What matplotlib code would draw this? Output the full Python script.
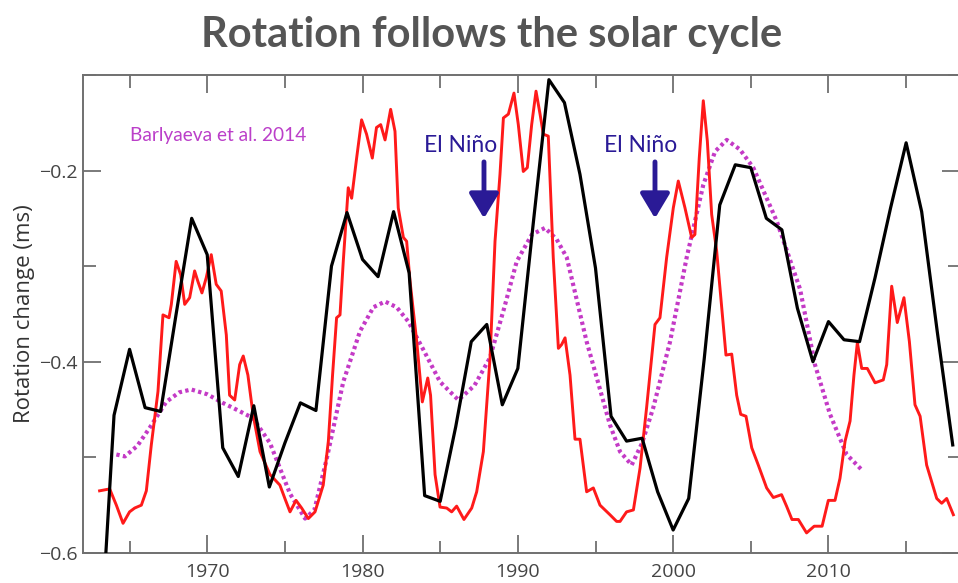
import matplotlib
matplotlib.use("Agg")
import matplotlib.pyplot as plt
from matplotlib.ticker import MultipleLocator

# black: annual rotation change (ms)
rot_years = list(range(1963, 2019))
rot_vals = [-0.73, -0.456, -0.387, -0.448, -0.452, -0.350, -0.250, -0.288, -0.490, -0.520,
            -0.446, -0.531, -0.485, -0.443, -0.451, -0.300, -0.244, -0.293, -0.311, -0.243,
            -0.307, -0.540, -0.546, -0.468, -0.379, -0.361, -0.445, -0.407, -0.254, -0.105,
            -0.129, -0.204, -0.302, -0.457, -0.483, -0.480, -0.536, -0.576, -0.543, -0.397,
            -0.236, -0.194, -0.197, -0.250, -0.262, -0.344, -0.400, -0.358, -0.377, -0.379,
            -0.312, -0.239, -0.171, -0.243, -0.368, -0.487]

# red: solar cycle (scaled)
sun_years = [1963.07, 1963.72, 1964.15, 1964.58, 1965.00, 1965.33, 1965.76, 1966.08, 1966.40, 1966.83,
             1967.15, 1967.54, 1967.69, 1968.00, 1968.29, 1968.55, 1968.87, 1969.19, 1969.40, 1969.66,
             1969.94, 1970.26, 1970.58, 1970.90, 1971.23, 1971.44, 1971.77, 1972.09, 1972.32, 1972.62,
             1972.95, 1973.40, 1974.04, 1974.68, 1975.00, 1975.33, 1975.72, 1976.08, 1976.51, 1976.94,
             1977.47, 1977.80, 1978.07, 1978.33, 1978.55, 1978.76, 1979.08, 1979.30, 1979.62, 1979.94,
             1980.26, 1980.63, 1980.90, 1981.17, 1981.45, 1981.81, 1982.09, 1982.30, 1982.63, 1982.84,
             1983.06, 1983.49, 1983.85, 1984.20, 1984.38, 1984.67, 1984.99, 1985.42, 1985.74, 1986.06,
             1986.53, 1987.03, 1987.35, 1987.78, 1988.21, 1988.53, 1988.85, 1989.07, 1989.39, 1989.75,
             1990.03, 1990.35, 1990.61, 1990.89, 1991.17, 1991.43, 1991.64, 1991.96, 1992.28, 1992.61,
             1992.82, 1993.04, 1993.36, 1993.68, 1994.00, 1994.43, 1994.86, 1995.29, 1995.93, 1996.36,
             1996.58, 1997.00, 1997.44, 1997.87, 1998.29, 1998.83, 1999.15, 1999.58, 2000.01, 2000.33,
             2000.76, 2001.19, 2001.40, 2001.68, 2001.94, 2002.20, 2002.48, 2002.80, 2003.13, 2003.40,
             2003.77, 2004.09, 2004.35, 2004.69, 2005.06, 2005.48, 2006.02, 2006.45, 2006.98, 2007.30,
             2007.65, 2008.06, 2008.59, 2009.08, 2009.59, 2009.99, 2010.42, 2010.74, 2011.07, 2011.39,
             2011.64, 2011.86, 2012.14, 2012.50, 2013.00, 2013.53, 2013.75, 2014.07, 2014.43, 2014.86,
             2015.21, 2015.57, 2015.90, 2016.32, 2016.97, 2017.29, 2017.61, 2018.04]
sun_vals = [-0.535, -0.533, -0.550, -0.569, -0.557, -0.553, -0.550, -0.535, -0.487, -0.431,
            -0.351, -0.354, -0.340, -0.295, -0.309, -0.340, -0.333, -0.305, -0.316, -0.328,
            -0.312, -0.288, -0.319, -0.326, -0.372, -0.435, -0.440, -0.403, -0.394, -0.414,
            -0.455, -0.494, -0.518, -0.529, -0.543, -0.557, -0.545, -0.553, -0.564, -0.557,
            -0.529, -0.483, -0.414, -0.354, -0.351, -0.295, -0.218, -0.229, -0.187, -0.147,
            -0.162, -0.187, -0.155, -0.152, -0.168, -0.136, -0.159, -0.239, -0.270, -0.274,
            -0.316, -0.379, -0.442, -0.417, -0.435, -0.518, -0.552, -0.553, -0.557, -0.551,
            -0.565, -0.553, -0.536, -0.494, -0.396, -0.274, -0.204, -0.145, -0.141, -0.119,
            -0.152, -0.201, -0.197, -0.152, -0.117, -0.141, -0.162, -0.164, -0.291, -0.386,
            -0.382, -0.375, -0.414, -0.481, -0.481, -0.536, -0.532, -0.550, -0.560, -0.567,
            -0.567, -0.557, -0.555, -0.511, -0.448, -0.361, -0.354, -0.291, -0.239, -0.211,
            -0.239, -0.270, -0.267, -0.187, -0.127, -0.169, -0.246, -0.284, -0.344, -0.393,
            -0.392, -0.435, -0.455, -0.457, -0.490, -0.508, -0.532, -0.542, -0.539, -0.551,
            -0.565, -0.565, -0.579, -0.572, -0.572, -0.545, -0.545, -0.522, -0.483, -0.462,
            -0.414, -0.380, -0.407, -0.407, -0.422, -0.419, -0.403, -0.321, -0.359, -0.333,
            -0.379, -0.445, -0.457, -0.508, -0.543, -0.548, -0.543, -0.560]

# magenta dotted: Barlyaeva et al. 2014
bar_years = [1964.15, 1964.70, 1965.50, 1966.30, 1967.36, 1968.20, 1968.97, 1970.00, 1971.00, 1972.00,
             1972.95, 1974.04, 1975.33, 1976.30, 1976.90, 1977.70, 1978.76, 1979.84, 1980.70, 1981.45,
             1982.20, 1982.95, 1984.00, 1984.99, 1986.17, 1987.20, 1988.20, 1989.10, 1989.93, 1990.90,
             1991.75, 1992.50, 1993.15, 1994.43, 1995.93, 1996.58, 1997.33, 1998.00, 1998.72, 1999.80,
             2000.87, 2001.94, 2002.70, 2003.45, 2004.30, 2005.16, 2006.67, 2008.17, 2009.13, 2010.10,
             2011.17, 2012.14]
bar_vals = [-0.497, -0.499, -0.488, -0.469, -0.442, -0.432, -0.429, -0.434, -0.443, -0.451,
            -0.459, -0.485, -0.538, -0.564, -0.555, -0.501, -0.421, -0.368, -0.343, -0.337,
            -0.343, -0.358, -0.390, -0.421, -0.440, -0.425, -0.396, -0.345, -0.295, -0.267,
            -0.260, -0.272, -0.291, -0.379, -0.466, -0.494, -0.508, -0.485, -0.448, -0.379,
            -0.291, -0.215, -0.180, -0.168, -0.178, -0.197, -0.253, -0.324, -0.403, -0.455,
            -0.497, -0.513]

# El Nino markers
nino_arrow_years = [1987.82, 1998.83]
nino_label_years = [1986.33, 1997.93]

AX_GRAY = "#707070"
NINO = "#2a1a96"

fig = plt.figure(figsize=(9.58, 5.83), dpi=100)
ax = fig.add_axes([0.0866, 0.0515, 0.916, 0.820])

ax.plot(bar_years, bar_vals, color="#c43ac6", lw=3.0, ls=(0, (0.8, 0.8)), zorder=2)
ax.plot(sun_years, sun_vals, color="#ff1a1a", lw=2.1, zorder=3)
ax.plot(rot_years, rot_vals, color="black", lw=2.3, zorder=4)

ax.set_xlim(1962, 2018.5)
ax.set_ylim(-0.6, -0.1)
ax.xaxis.set_major_locator(MultipleLocator(10))
ax.xaxis.set_minor_locator(MultipleLocator(5))
ax.yaxis.set_major_locator(MultipleLocator(0.2))
ax.yaxis.set_minor_locator(MultipleLocator(0.1))
ax.yaxis.set_major_formatter(lambda v, p: f"{v:.1f}".replace("-", "\u2212"))
ax.tick_params(which="both", direction="in", top=True, right=True, color=AX_GRAY, width=1.3)
ax.tick_params(which="major", length=13)
ax.tick_params(which="minor", length=9)
ax.tick_params(axis="x", which="major", pad=7, labelsize=14, labelcolor="#444444")
ax.tick_params(axis="y", which="major", pad=4, labelsize=14, labelcolor="#444444")
for lab in ax.get_xticklabels() + ax.get_yticklabels():
    lab.set_fontfamily("Open Sans")
for s in ax.spines.values():
    s.set_color(AX_GRAY)
    s.set_linewidth(1.4)

ax.set_ylabel("Rotation change (ms)", fontsize=16, color="#333333", family="Open Sans", labelpad=3)
fig.text(492 / 958, 1 - 47 / 583, "Rotation follows the solar cycle", fontsize=30,
         fontweight="bold", color="#555555", family="Lato", ha="center", va="baseline")

ax.text(1965.0, -0.163, "Barlyaeva et al. 2014", color="#bb3fc9", fontsize=13.8,
        family="Lato", ha="left", va="center")
for xa, xl in zip(nino_arrow_years, nino_label_years):
    ax.text(xl, -0.174, "El Niño", color=NINO, fontsize=16.5, family="Lato",
            ha="center", va="center")
    ax.annotate("", xy=(xa, -0.250), xytext=(xa, -0.191),
                arrowprops=dict(arrowstyle="-|>,head_width=0.45,head_length=0.75",
                                mutation_scale=20, color=NINO, lw=3.5,
                                shrinkA=0, shrinkB=0))

fig.savefig("out.png", dpi=100)
